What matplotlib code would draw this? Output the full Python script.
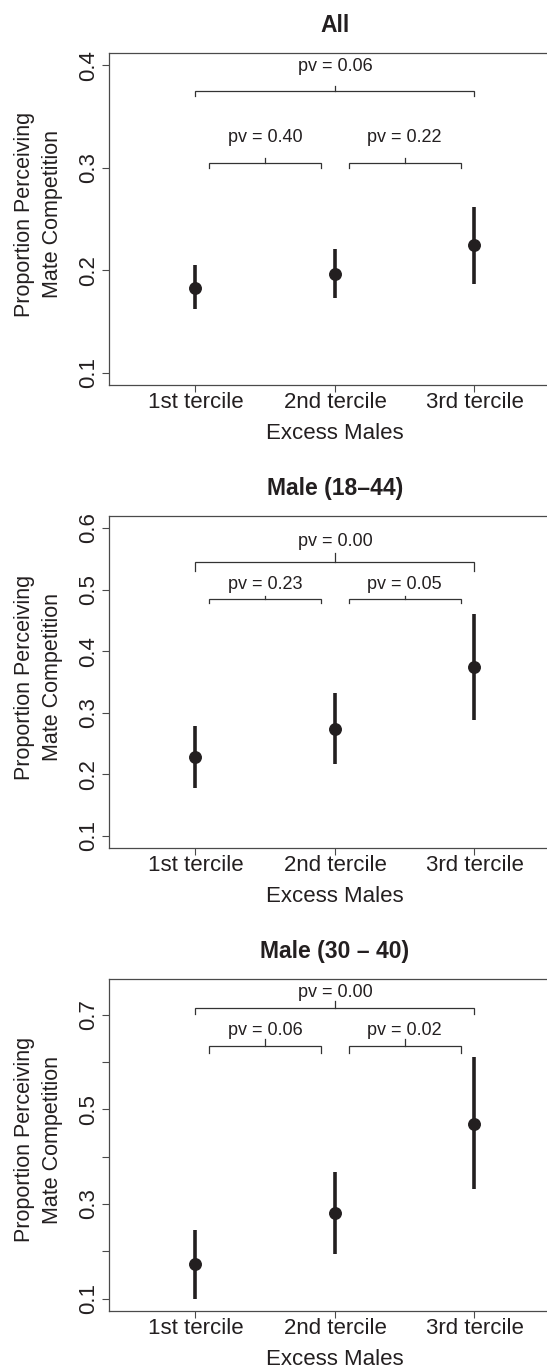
import matplotlib
matplotlib.use("Agg")
import matplotlib.pyplot as plt
import matplotlib.transforms as mtransforms

plt.rcParams['font.family'] = ['Liberation Sans', 'DejaVu Sans']

# ---------------- data ----------------
categories = ['1st tercile', '2nd tercile', '3rd tercile']
titles = ['All', 'Male (18\u201344)', 'Male (30 \u2013 40)']
xlabel = 'Excess Males'
ylabel_lines = ['Proportion Perceiving', 'Mate Competition']

est_all = [0.183, 0.197, 0.225]
lo_all = [0.162, 0.173, 0.187]
hi_all = [0.205, 0.221, 0.262]

est_m1844 = [0.228, 0.274, 0.375]
lo_m1844 = [0.178, 0.217, 0.289]
hi_m1844 = [0.279, 0.332, 0.460]

est_m3040 = [0.174, 0.282, 0.470]
lo_m3040 = [0.100, 0.195, 0.331]
hi_m3040 = [0.246, 0.367, 0.610]

# p-values for comparisons: (1 vs 2), (2 vs 3), (1 vs 3)
pv_all = ['0.40', '0.22', '0.06']
pv_m1844 = ['0.23', '0.05', '0.00']
pv_m3040 = ['0.06', '0.02', '0.00']

# y ranges (before R-style 4% padding) and tick values
yrange_all = (0.1, 0.4)
yrange_m1844 = (0.1, 0.6)
yrange_m3040 = (0.1, 0.75)
yticks_all = [0.1, 0.2, 0.3, 0.4]
yticks_m1844 = [0.1, 0.2, 0.3, 0.4, 0.5, 0.6]
yticks_m3040 = [0.1, 0.2, 0.3, 0.4, 0.5, 0.6, 0.7]
ylabels_m3040 = ['0.1', '', '0.3', '', '0.5', '', '0.7']

# bracket heights (pairs level, overall level) and label baselines
brk_all = (0.305, 0.375)
txt_all = (0.3249, 0.3945)
brk_m1844 = (0.484, 0.545)
txt_m1844 = (0.5017, 0.5703)
brk_m3040 = (0.634, 0.715)
txt_m3040 = (0.6563, 0.7371)

# ---------------- style ----------------
W, H = 547, 1368
DPI = 100
TXT = '#231f20'
SPINE = '#4a4a4a'
fig = plt.figure(figsize=(W / DPI, H / DPI), dpi=DPI)

x = [1, 2, 3]
xlim = (0.38, 3.62)
left_px = 109
px_per_unit = 139.5
width_px = (xlim[1] - xlim[0]) * px_per_unit

panels = [
    dict(title=titles[0], est=est_all, lo=lo_all, hi=hi_all, pv=pv_all,
         yr=yrange_all, yt=yticks_all, yl=None, brk=brk_all, txt=txt_all,
         top=53.0, bottom=385.3, drop=(0.005, 0.005)),
    dict(title=titles[1], est=est_m1844, lo=lo_m1844, hi=hi_m1844, pv=pv_m1844,
         yr=yrange_m1844, yt=yticks_m1844, yl=None, brk=brk_m1844, txt=txt_m1844,
         top=515.7, bottom=848.3, drop=(0.006, 0.015)),
    dict(title=titles[2], est=est_m3040, lo=lo_m3040, hi=hi_m3040, pv=pv_m3040,
         yr=yrange_m3040, yt=yticks_m3040, yl=ylabels_m3040, brk=brk_m3040, txt=txt_m3040,
         top=978.7, bottom=1311.0, drop=(0.014, 0.014)),
]

for p in panels:
    hpx = p['bottom'] - p['top']
    ax = fig.add_axes([left_px / W, 1 - p['bottom'] / H, width_px / W, hpx / H])
    ax.set_xlim(*xlim)
    lo_r, hi_r = p['yr']
    pad = 0.04 * (hi_r - lo_r)
    ax.set_ylim(lo_r - pad, hi_r + pad)

    # error bars and points
    for xi, e, l, h in zip(x, p['est'], p['lo'], p['hi']):
        ax.plot([xi, xi], [l, h], color=TXT, lw=2.6, solid_capstyle='butt', zorder=3)
    ax.plot(x, p['est'], 'o', color=TXT, ms=8.3, zorder=4)

    # brackets
    d_small, d_big = p['drop']
    pairs = [(1.1, 1.9), (2.1, 2.9), (1.0, 3.0)]
    levels = [p['brk'][0], p['brk'][0], p['brk'][1]]
    tlevels = [p['txt'][0], p['txt'][0], p['txt'][1]]
    drops = [d_small, d_small, d_big]
    for (a, b), yv, ty, d, lab in zip(pairs, levels, tlevels, drops, p['pv']):
        ax.plot([a, a, b, b], [yv - d, yv, yv, yv - d], color='#333333', lw=0.9,
                solid_joinstyle='miter', zorder=2)
        c = (a + b) / 2
        ax.plot([c, c], [yv, yv + d], color='#333333', lw=0.9, zorder=2)
        ax.text(c, ty, 'pv = ' + lab, ha='center', va='baseline', fontsize=13, color=TXT)

    # axes styling
    for s in ax.spines.values():
        s.set_color(SPINE)
        s.set_linewidth(0.9)
    ax.set_xticks(x)
    ax.set_xticklabels(categories)
    ax.set_yticks(p['yt'])
    if p['yl'] is None:
        ax.set_yticklabels([f'{v:.1f}' for v in p['yt']])
    else:
        ax.set_yticklabels(p['yl'])
    ax.tick_params(axis='both', direction='out', length=4.8, width=0.8, color=SPINE,
                   labelcolor=TXT, labelsize=16)
    ax.tick_params(axis='x', pad=0.3)
    ax.tick_params(axis='y', pad=2.0)
    for t in ax.get_yticklabels():
        t.set_rotation(90)
        t.set_va('center')
        t.set_ha('right')

    # title, x label, y label
    blend = mtransforms.blended_transform_factory(ax.transData, ax.transAxes)
    ax.text(2, 1 + 21.0 / hpx, p['title'], transform=blend, ha='center', va='baseline',
            fontsize=16.5, fontweight='bold', color=TXT)
    ax.text(2, -54.0 / hpx, xlabel, transform=blend, ha='center', va='baseline',
            fontsize=16, color=TXT)
    ycen = 0.515
    ax.text((24 - left_px) / width_px, ycen, ylabel_lines[0], transform=ax.transAxes,
            rotation=90, ha='center', va='center', fontsize=15.5, color=TXT)
    ax.text((52.5 - left_px) / width_px, ycen, ylabel_lines[1], transform=ax.transAxes,
            rotation=90, ha='center', va='center', fontsize=15.5, color=TXT)

fig.savefig('out.png', dpi=DPI)
